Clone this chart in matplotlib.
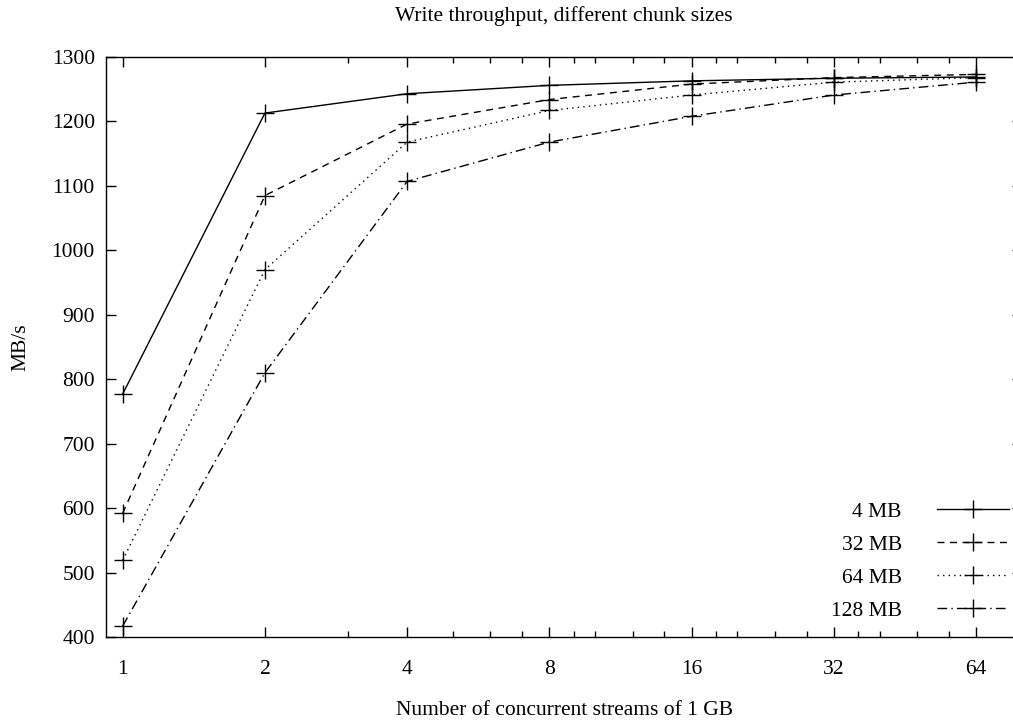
import matplotlib.pyplot as plt
from matplotlib.ticker import FixedLocator, NullFormatter

plt.rcParams['font.family'] = ['Liberation Serif', 'DejaVu Serif']
plt.rcParams['font.size'] = 15.5

# data
streams = [1, 2, 4, 8, 16, 32, 64]
mb4 = [777, 1213, 1243, 1256, 1263, 1267, 1269]
mb32 = [592, 1085, 1196, 1234, 1258, 1268, 1273]
mb64 = [519, 970, 1168, 1217, 1241, 1261, 1268]
mb128 = [417, 810, 1107, 1168, 1208, 1241, 1261]
labels = ['4 MB', '32 MB', '64 MB', '128 MB']
minor_x = [3, 5, 6, 7, 9, 10, 12, 14, 18, 20, 24, 28, 36, 40, 48, 56]

styles = ['-', (0, (5, 4)), (0, (1, 3)), (0, (7, 3, 1, 3))]

fig = plt.figure(figsize=(10.13, 7.2), dpi=100)
# the right border sits just outside the picture, like the cropped original
ax = fig.add_axes([106 / 1013, 83 / 720, 916 / 1013, 580 / 720])

for ys, ls, lab in zip([mb4, mb32, mb64, mb128], styles, labels):
    ax.plot(streams, ys, color='black', linestyle=ls, linewidth=1.0,
            marker='+', markersize=12.5, markeredgewidth=1.0, label=lab)

ax.set_xscale('log', base=2)
ax.set_xlim(0.922, 80)
ax.set_ylim(400, 1300)
ax.xaxis.set_major_locator(FixedLocator(streams))
ax.set_xticklabels([str(s) for s in streams])
ax.xaxis.set_minor_locator(FixedLocator(minor_x))
ax.xaxis.set_minor_formatter(NullFormatter())
ax.set_yticks(range(400, 1301, 100))

ax.tick_params(which='both', direction='in', top=True, right=True, width=1.0)
ax.tick_params(which='major', length=7)
ax.tick_params(which='minor', length=4)
ax.tick_params(axis='x', pad=16.5)
ax.tick_params(axis='y', pad=8)
for sp in ax.spines.values():
    sp.set_linewidth(1.0)

ax.set_title('Write throughput, different chunk sizes', fontsize=15.5, pad=26)
ax.set_xlabel('Number of concurrent streams of 1 GB', labelpad=16)
ax.set_ylabel('MB/s', labelpad=15)

ax.legend(loc='lower right', bbox_to_anchor=(1009 / 1013, 99.5 / 720),
          bbox_transform=fig.transFigure, frameon=False, markerfirst=False,
          numpoints=1, handlelength=3.35, handletextpad=1.63, labelspacing=0.6,
          borderaxespad=0, borderpad=0)

fig.savefig('out.png', dpi=100)
